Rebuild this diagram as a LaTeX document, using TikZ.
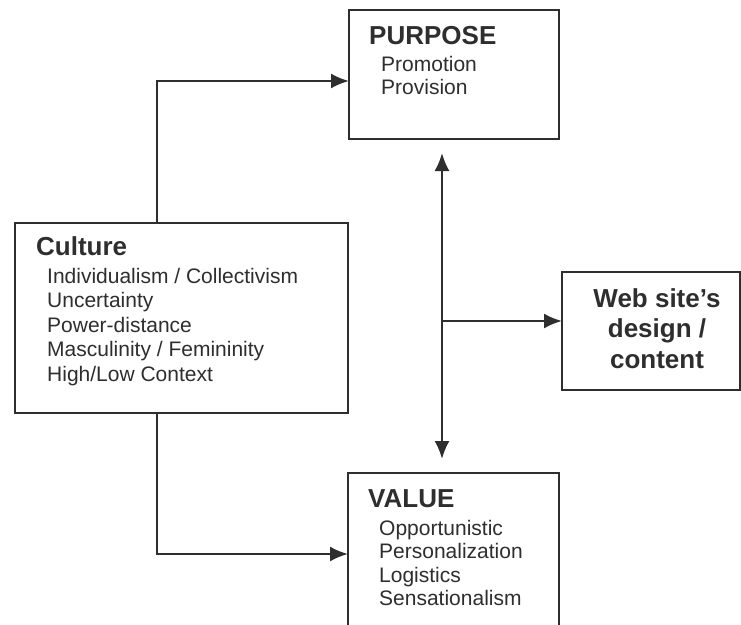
\documentclass[tikz,border=0pt]{standalone}
\usepackage{fontspec}
\setmainfont{Liberation Sans}
\usetikzlibrary{arrows.meta}
\definecolor{ink}{HTML}{2E2E2E}
\tikzset{
  box/.style={draw=ink,line width=1.6pt,rectangle,anchor=north west,inner sep=0pt,outer sep=0pt},
  head/.style={ink,anchor=base west,inner sep=0pt,font=\fontsize{26}{30}\selectfont\bfseries},
  item/.style={ink,anchor=base west,inner sep=0pt,font=\fontsize{21}{24}\selectfont},
  webtxt/.style={ink,anchor=base,inner sep=0pt,font=\fontsize{26}{30}\selectfont\bfseries},
  conn/.style={ink,line width=2.2pt,-{Latex[length=18pt,width=15pt]}},
  twoway/.style={ink,line width=2.2pt,{Latex[length=18pt,width=15pt]}-{Latex[length=18pt,width=15pt]},shorten <=14pt,shorten >=14pt}
}
\begin{document}
\begin{tikzpicture}[x=1pt,y=-1pt]
\useasboundingbox (0,0) rectangle (741,624);
\clip (0,0) rectangle (741,624);
\fill[white] (0,0) rectangle (741,624);
% boxes
\node[box,minimum width=210,minimum height=129] (purpose) at (349,10) {};
\node[box,minimum width=333,minimum height=190] (culture) at (15,223) {};
\node[box,minimum width=211,minimum height=190] (value) at (348,473) {};
\node[box,minimum width=178,minimum height=118] (web) at (562,272) {};
% texts
\node[head] (purposehead) at (369,44) {PURPOSE};
\node[item] (promotion) at (381,71) {Promotion};
\node[item] (provision) at (381,94.5) {Provision};
\node[head] (culturehead) at (36,255) {Culture};
\node[item] (individualism) at (47,283) {Individualism / Collectivism};
\node[item] (uncertainty) at (47,307.5) {Uncertainty};
\node[item] (powerdistance) at (47,332) {Power-distance};
\node[item] (masculinity) at (47,356.5) {Masculinity / Femininity};
\node[item] (highlow) at (47,381) {High/Low Context};
\node[head] (valuehead) at (368,507) {VALUE};
\node[item] (opportunistic) at (379,535) {Opportunistic};
\node[item] (personalization) at (379,558.5) {Personalization};
\node[item] (logistics) at (379,582) {Logistics};
\node[item] (sensationalism) at (379,605.5) {Sensationalism};
\node[webtxt] (webone) at (657,307) {Web site’s};
\node[webtxt] (webtwo) at (657,337.5) {design /};
\node[webtxt] (webthree) at (657,368) {content};
% connectors
\coordinate (up) at (157,81);
\coordinate (down) at (157,554);
\coordinate (mid) at (442,321);
\draw[conn] (culture.north -| up) -- (up) -- (purpose.west |- up);
\draw[conn] (culture.south -| down) -- (down) -- (value.west |- down);
\draw[twoway] (purpose.south -| mid) -- (value.north -| mid);
\draw[conn] (mid) -- (web.west |- mid);
\end{tikzpicture}
\end{document}
